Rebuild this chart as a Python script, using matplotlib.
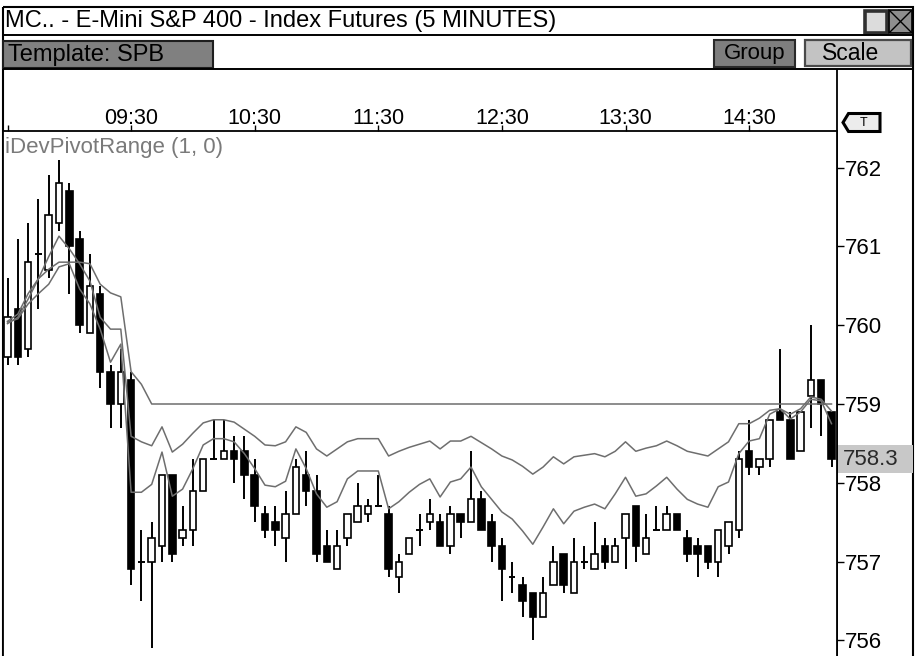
import matplotlib
matplotlib.use("Agg")
import matplotlib.pyplot as plt
from matplotlib.patches import Rectangle, Polygon
from matplotlib.transforms import blended_transform_factory

# ---- 5-minute bars, E-Mini S&P 400, 08:30 .. 15:10 ----
opens = [759.6, 760.2, 759.7, 760.9, 760.7, 761.3, 761.7, 761.1, 759.9, 760.4,
         759.4, 759.0, 759.3, 757.0, 757.0, 757.2, 758.1, 757.3, 757.4, 757.9,
         758.3, 758.3, 758.4, 758.4, 758.1, 757.6, 757.5, 757.3, 757.6, 758.1,
         757.9, 757.2, 756.9, 757.3, 757.5, 757.6, 757.7, 757.6, 756.8, 757.1,
         757.4, 757.5, 757.5, 757.2, 757.6, 757.5, 757.8, 757.5, 757.2, 756.8,
         756.7, 756.6, 756.3, 756.7, 757.1, 756.6, 757.0, 756.9, 757.2, 757.0,
         757.3, 757.7, 757.1, 757.4, 757.4, 757.6, 757.3, 757.2, 757.2, 757.0,
         757.2, 757.4, 758.4, 758.2, 758.3, 758.9, 758.8, 758.4, 759.1, 759.3,
         758.9]
highs = [760.6, 761.1, 761.3, 761.6, 761.9, 762.1, 761.8, 761.2, 760.9, 760.5,
         759.5, 759.7, 759.4, 757.4, 757.5, 758.1, 758.1, 757.7, 758.3, 758.3,
         758.8, 758.8, 758.6, 758.6, 758.3, 757.7, 757.7, 757.9, 758.3, 758.4,
         758.1, 757.4, 757.4, 757.6, 758.0, 757.8, 758.1, 757.7, 757.1, 757.3,
         757.6, 757.8, 757.6, 757.7, 757.6, 758.4, 757.9, 757.6, 757.3, 757.0,
         756.8, 756.6, 756.8, 757.2, 757.1, 757.3, 757.2, 757.5, 757.3, 757.3,
         757.6, 757.7, 757.6, 757.7, 757.7, 757.6, 757.4, 757.3, 757.2, 757.4,
         757.5, 758.4, 758.8, 758.3, 758.8, 759.7, 758.9, 758.9, 760.0, 759.3,
         758.9]
lows = [759.5, 759.5, 759.6, 760.2, 760.6, 761.2, 760.4, 759.9, 759.9, 759.2,
        758.7, 758.7, 756.7, 756.5, 755.9, 757.0, 757.0, 757.2, 757.2, 757.9,
        758.3, 758.3, 758.0, 757.8, 757.5, 757.3, 757.2, 757.0, 757.6, 757.7,
        757.0, 757.0, 756.9, 757.2, 757.5, 757.5, 757.7, 756.8, 756.6, 757.1,
        757.2, 757.4, 757.2, 757.1, 757.3, 757.5, 757.4, 757.0, 756.5, 756.6,
        756.3, 756.0, 756.3, 756.7, 756.6, 756.6, 756.9, 756.9, 756.9, 757.0,
        756.9, 757.0, 757.1, 757.4, 757.4, 757.4, 757.0, 756.8, 756.9, 756.8,
        757.1, 757.3, 758.1, 758.1, 758.2, 758.8, 758.3, 758.4, 758.7, 758.6,
        758.2]
closes = [760.1, 759.6, 760.8, 760.9, 761.4, 761.8, 761.0, 760.0, 760.5, 759.4,
          759.0, 759.4, 756.9, 757.0, 757.3, 758.1, 757.1, 757.4, 757.9, 758.3,
          758.3, 758.4, 758.3, 758.1, 757.7, 757.4, 757.4, 757.6, 758.2, 757.9,
          757.1, 757.0, 757.2, 757.6, 757.7, 757.7, 757.7, 756.9, 757.0, 757.3,
          757.4, 757.6, 757.2, 757.6, 757.5, 757.8, 757.4, 757.2, 756.9, 756.8,
          756.5, 756.3, 756.6, 757.0, 756.7, 757.0, 757.0, 757.1, 757.0, 757.2,
          757.6, 757.2, 757.3, 757.4, 757.6, 757.4, 757.1, 757.1, 757.0, 757.4,
          757.5, 758.3, 758.2, 758.3, 758.8, 758.8, 758.3, 758.9, 759.3, 759.0,
          758.3]

# ---- iDevPivotRange (1, 0) study lines ----
pivot_line1 = [760.05, 760.14, 760.40, 760.59, 760.71, 760.80, 760.80, 760.80, 760.78, 760.52,
               760.41, 760.36, 759.41, 759.25, 759.00, 759.00, 759.00, 759.00, 759.00, 759.00,
               759.00, 759.00, 759.00, 759.00, 759.00, 759.00, 759.00, 759.00, 759.00, 759.00,
               759.00, 759.00, 759.00, 759.00, 759.00, 759.00, 759.00, 759.00, 759.00, 759.00,
               759.00, 759.00, 759.00, 759.00, 759.00, 759.00, 759.00, 759.00, 759.00, 759.00,
               759.00, 759.00, 759.00, 759.00, 759.00, 759.00, 759.00, 759.00, 759.00, 759.00,
               759.00, 759.00, 759.00, 759.00, 759.00, 759.00, 759.00, 759.00, 759.00, 759.00,
               759.00, 759.00, 759.00, 759.00, 759.00, 759.00, 759.00, 759.00, 759.00, 759.00,
               759.00]
pivot_line2 = [760.02, 760.10, 760.33, 760.59, 760.87, 761.13, 760.97, 760.78, 760.56, 760.10,
               759.95, 759.95, 758.59, 758.52, 758.47, 758.71, 758.39, 758.49, 758.63, 758.76,
               758.80, 758.80, 758.77, 758.68, 758.59, 758.48, 758.47, 758.52, 758.71, 758.64,
               758.43, 758.34, 758.43, 758.52, 758.56, 758.56, 758.56, 758.34, 758.40, 758.45,
               758.49, 758.53, 758.43, 758.53, 758.53, 758.59, 758.51, 758.43, 758.34, 758.29,
               758.21, 758.11, 758.20, 758.33, 758.24, 758.33, 758.35, 758.37, 758.33, 758.40,
               758.52, 758.40, 758.44, 758.47, 758.53, 758.47, 758.40, 758.37, 758.34, 758.43,
               758.52, 758.75, 758.75, 758.82, 758.92, 758.94, 758.87, 758.94, 759.09, 759.06,
               758.91]
pivot_line3 = [760.04, 760.08, 760.27, 760.40, 760.52, 760.74, 760.78, 760.46, 760.27, 759.95,
               759.53, 759.76, 757.88, 757.88, 757.98, 758.39, 757.83, 757.92, 758.18, 758.48,
               758.56, 758.56, 758.52, 758.37, 758.18, 757.97, 757.95, 758.02, 758.43, 758.18,
               757.86, 757.69, 757.76, 758.05, 758.15, 758.15, 758.15, 757.67, 757.76, 757.88,
               757.98, 758.05, 757.82, 758.01, 758.05, 758.20, 757.95, 757.79, 757.63, 757.54,
               757.39, 757.22, 757.44, 757.67, 757.48, 757.64, 757.69, 757.73, 757.67, 757.86,
               758.07, 757.83, 757.86, 757.96, 758.07, 757.92, 757.79, 757.73, 757.69, 757.95,
               758.01, 758.37, 758.53, 758.56, 758.87, 758.94, 758.81, 758.90, 759.06, 759.04,
               758.75]

time_tick_bars = [0, 12, 24, 36, 48, 60, 72]
time_tick_labels = ["", "09:30", "10:30", "11:30", "12:30", "13:30", "14:30"]
price_ticks = [756, 757, 758, 759, 760, 761, 762]

title_text = "MC.. - E-Mini S&P 400 - Index Futures (5 MINUTES)"
study_text = "iDevPivotRange (1, 0)"

FONT = ["Liberation Sans", "DejaVu Sans"]

W, H = 915, 656
fig = plt.figure(figsize=(W / 100, H / 100), dpi=100)
fig.patch.set_facecolor("white")

# window chrome, laid out in pixel units
ui = fig.add_axes([0, 0, 1, 1])
ui.set_xlim(0, W)
ui.set_ylim(H, 0)
ui.axis("off")

ui.add_patch(Rectangle((2.5, 7), 910, 700, fill=False, ec="black", lw=1.5))
ui.hlines([35, 69], 2.5, 912.5, color="black", lw=1.4)
ui.vlines(837, 69, H, color="black", lw=1.3)

ui.text(5, 21.5, title_text, fontsize=17, family=FONT, va="center", ha="left")

# maximize / close boxes
ui.add_patch(Rectangle((865, 10.5), 22, 22, fc="#dcdcdc", ec="#303030", lw=2.6))
ui.add_patch(Rectangle((889, 10), 23, 23, fc="#8e8e8e", ec="black", lw=1.2))
ui.plot([890, 911], [11, 32], color="black", lw=1.0)
ui.plot([890, 911], [32, 11], color="black", lw=1.0)

# toolbar buttons
ui.add_patch(Rectangle((3, 40.5), 210, 27, fc="#808080", ec="#1e1e1e", lw=1.5))
ui.text(8, 54.5, "Template: SPB", fontsize=17, family=FONT, va="center", ha="left")
ui.add_patch(Rectangle((714, 39.5), 81, 27.5, fc="#7e7e7e", ec="#2a2a2a", lw=1.5))
ui.text(754.5, 54, "Group", fontsize=16, family=FONT, va="center", ha="center")
ui.add_patch(Rectangle((805, 40), 106, 26, fc="#c3c3c3", ec="#4a4a4a", lw=1.6))
ui.text(851, 54, "Scale", fontsize=16.5, family=FONT, va="center", ha="center")

# "T" tag on the price scale
ui.add_patch(Polygon([(843, 122.5), (848.5, 113.5), (880, 113.5), (880, 131.5), (848.5, 131.5)],
                     closed=True, fc="#ececec", ec="black", lw=2.2))
ui.text(864, 122.5, "T", fontsize=9, family=FONT, va="center", ha="center")

# ---- price pane ----
PX_L, PX_R, PX_T, PX_B = 3.2, 837, 131, 656
BAR0_PX, BAR_PX = 7.5, 10.3          # pixel of first bar, pixels per bar
REF_PRICE, REF_PX, PT_PX = 759.0, 404.0, 78.8

ax = fig.add_axes([PX_L / W, (H - PX_B) / H, (PX_R - PX_L) / W, (PX_B - PX_T) / H])
ax.set_facecolor("white")
ax.set_xlim((PX_L - BAR0_PX) / BAR_PX, (PX_R - BAR0_PX) / BAR_PX)
ax.set_ylim(REF_PRICE - (PX_B - REF_PX) / PT_PX, REF_PRICE + (REF_PX - PX_T) / PT_PX)

idx = list(range(len(opens)))

# candles: wicks, then bodies
ax.vlines(idx, lows, highs, color="black", lw=1.4, zorder=2)
body_w = 0.64
for i, o, c in zip(idx, opens, closes):
    if abs(c - o) < 1e-9:
        ax.hlines(o, i - body_w / 2, i + body_w / 2, color="black", lw=1.4, zorder=3)
        continue
    fill = "white" if c > o else "black"
    ax.add_patch(Rectangle((i - body_w / 2, min(o, c)), body_w, abs(c - o),
                           fc=fill, ec="black", lw=1.2, zorder=3))

# study lines drawn over the candles
for series in (pivot_line1, pivot_line2, pivot_line3):
    ax.plot(idx, series, color="#6e6e6e", lw=1.1, zorder=4)

# time scale along the top
ax.xaxis.tick_top()
ax.set_xticks(time_tick_bars)
ax.set_xticklabels(time_tick_labels, fontsize=15.5, family=FONT)
ax.tick_params(axis="x", direction="out", length=4, width=1, pad=-2.5, colors="black")

# price scale on the right
ax.yaxis.tick_right()
ax.set_yticks(price_ticks)
ax.set_yticklabels([str(p) for p in price_ticks], fontsize=16, family=FONT)
ax.tick_params(axis="y", direction="out", length=5, width=1, pad=0.5, colors="black")

for side in ("left", "top", "right"):
    ax.spines[side].set_color("black")
    ax.spines[side].set_linewidth(1.3)
ax.spines["bottom"].set_visible(False)

# study caption
ax.text(5, 147, study_text, transform=ui.transData, fontsize=16, family=FONT,
        color="#7a7a7a", va="center", ha="left", zorder=6)

# last price marker on the scale
last = closes[-1]
px_price = blended_transform_factory(ui.transData, ax.transData)
ax.add_patch(Rectangle((838, last - 14 / PT_PX), 75, 28 / PT_PX, transform=px_price,
                       fc="#c8c8c8", ec="none", clip_on=False, zorder=9))
ax.text(843, last, f"{last:.1f}", transform=px_price, fontsize=16, family=FONT,
        color="#2a2a2a", va="center", ha="left", clip_on=False, zorder=10)

fig.savefig("out.png", dpi=100)
